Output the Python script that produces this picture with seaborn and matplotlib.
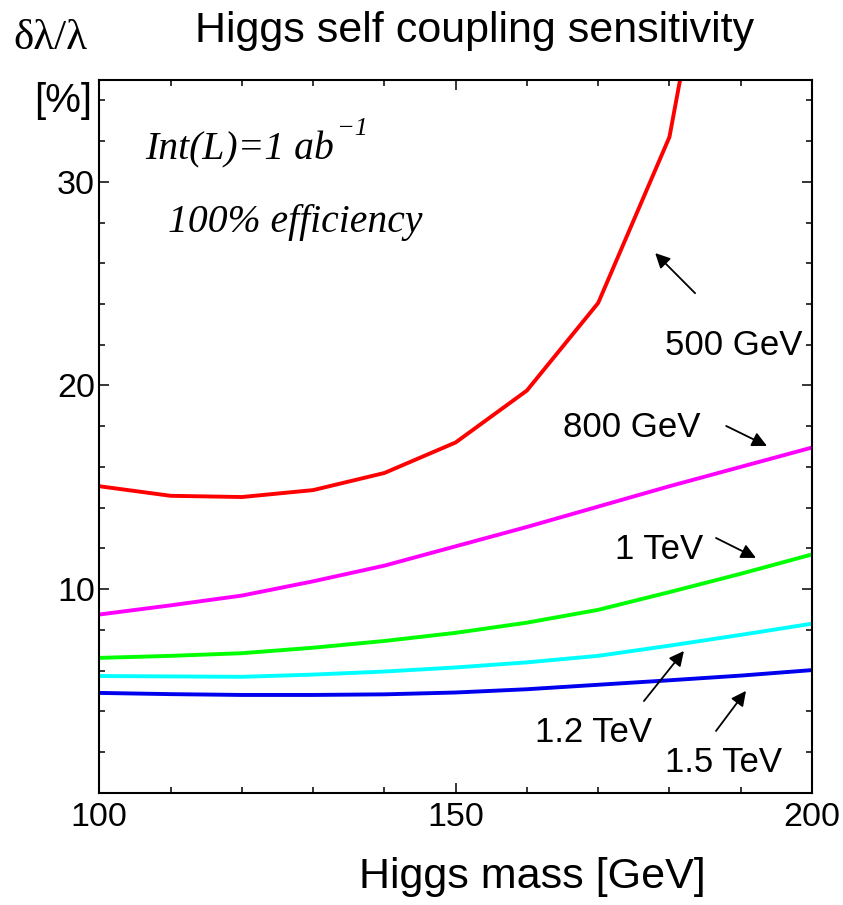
import numpy as np
import pandas as pd
import matplotlib
matplotlib.use("Agg")
import matplotlib.pyplot as plt
from matplotlib.ticker import MultipleLocator
import seaborn as sns

# Higgs mass grid [GeV]
mass = [100, 110, 120, 130, 140, 150, 160, 170, 180, 190, 200]
mass_500 = [100, 110, 120, 130, 140, 150, 160, 170, 180, 190]

# relative error on the Higgs self coupling [%] for each collider energy
err_500gev = [15.05, 14.58, 14.52, 14.86, 15.70, 17.20, 19.75, 24.05, 32.20, 51.0]
err_800gev = [8.75, 9.20, 9.68, 10.38, 11.15, 12.10, 13.05, 14.05, 15.05, 16.00, 16.95]
err_1tev = [6.62, 6.72, 6.85, 7.12, 7.45, 7.85, 8.35, 8.98, 9.85, 10.75, 11.70]
err_12tev = [5.73, 5.71, 5.69, 5.80, 5.95, 6.15, 6.40, 6.72, 7.22, 7.75, 8.30]
err_15tev = [4.90, 4.84, 4.80, 4.80, 4.83, 4.92, 5.08, 5.30, 5.52, 5.75, 6.02]

energies = ["500 GeV", "800 GeV", "1 TeV", "1.2 TeV", "1.5 TeV"]
colors = ["#ff0000", "#ff00ff", "#00ff00", "#00ffff", "#0000ee"]

frames = []
for name, xs, ys in zip(energies,
                        [mass_500, mass, mass, mass, mass],
                        [err_500gev, err_800gev, err_1tev, err_12tev, err_15tev]):
    frames.append(pd.DataFrame({"mass": xs, "err": ys, "energy": name}))
df = pd.concat(frames, ignore_index=True)

sns.set_style("ticks")
plt.rcParams["font.family"] = ["Liberation Sans", "DejaVu Sans"]
plt.rcParams.update({
    "text.color": "black",
    "axes.labelcolor": "black",
    "axes.edgecolor": "black",
    "xtick.color": "black",
    "ytick.color": "black",
})

fig = plt.figure(figsize=(8.43, 9.05), dpi=100)
ax = fig.add_axes([0.1178, 0.1241, 0.9632 - 0.1178, 0.9116 - 0.1241])

sns.lineplot(data=df, x="mass", y="err", hue="energy", hue_order=energies,
             palette=colors, linewidth=2.8, estimator=None, sort=False,
             legend=False, ax=ax)

ax.set_xlim(100, 200)
ax.set_ylim(0, 35)
ax.xaxis.set_major_locator(MultipleLocator(50))
ax.xaxis.set_minor_locator(MultipleLocator(10))
ax.yaxis.set_major_locator(MultipleLocator(10))
ax.yaxis.set_minor_locator(MultipleLocator(2))
ax.set_yticks([10, 20, 30])
ax.tick_params(which="both", direction="in", top=True, right=True,
               width=1.1, color="black", labelcolor="black", labelsize=24.5)
ax.tick_params(which="major", length=7.5)
ax.tick_params(which="minor", length=4)
ax.tick_params(axis="y", which="major", pad=3)
ax.tick_params(axis="x", which="major", pad=7)
ax.tick_params(axis="x", which="major", top=True, labeltop=False)
for side in ax.spines.values():
    side.set_linewidth(1.5)
    side.set_color("black")
ax.set_xlabel("")
ax.set_ylabel("")

# energy labels with pointer arrows
arrow_kw = dict(arrowstyle="-|>", color="black", lw=1.3, mutation_scale=22,
                shrinkA=0, shrinkB=0)
labels = [
    ("500 GeV", 179.33, 21.50, (183.6, 24.53), (178.0, 26.50)),
    ("800 GeV", 165.07, 17.47, (187.96, 18.01), (193.68, 17.03)),
    ("1 TeV", 172.35, 11.48, (186.53, 12.51), (192.14, 11.53)),
    ("1.2 TeV", 161.13, 2.49, (176.42, 4.50), (182.03, 6.96)),
    ("1.5 TeV", 179.37, 1.02, (186.53, 3.03), (190.74, 5.00)),
]
for text, tx, ty, tail, head in labels:
    ax.text(tx, ty, text, fontsize=25, color="black", ha="left", va="baseline")
    ax.annotate("", xy=head, xytext=tail, arrowprops=arrow_kw)

# run conditions
serif = ["Liberation Serif", "DejaVu Serif"]
lumi = ax.text(106.41, 31.08, "Int(L)=1 ab", fontsize=28.5, family=serif,
               style="italic", color="black", ha="left", va="baseline")
ax.annotate("\u22121", xy=(1.0, 0.78), xycoords=lumi, fontsize=19,
            family=serif, style="italic", color="black", ha="left",
            va="bottom", xytext=(2, 0), textcoords="offset points")
ax.text(109.64, 27.54, "100% efficiency", fontsize=28.5, family=serif,
        style="italic", color="black", ha="left", va="baseline")

# titles and axis labels
W, H = 843, 905
fig.text(475 / W, 1 - 42 / H, "Higgs self coupling sensitivity",
         fontsize=31, color="black", ha="center", va="baseline")
fig.text(13 / W, 1 - 49 / H, "\u03b4\u03bb/\u03bb", fontsize=31,
         family=serif, color="black", ha="left", va="baseline")
fig.text(92 / W, 1 - 112 / H, "[%]", fontsize=29, color="black",
         ha="right", va="baseline")
fig.text(532 / W, 1 - 888 / H, "Higgs mass [GeV]", fontsize=31,
         color="black", ha="center", va="baseline")

fig.savefig("out.png", dpi=100)
